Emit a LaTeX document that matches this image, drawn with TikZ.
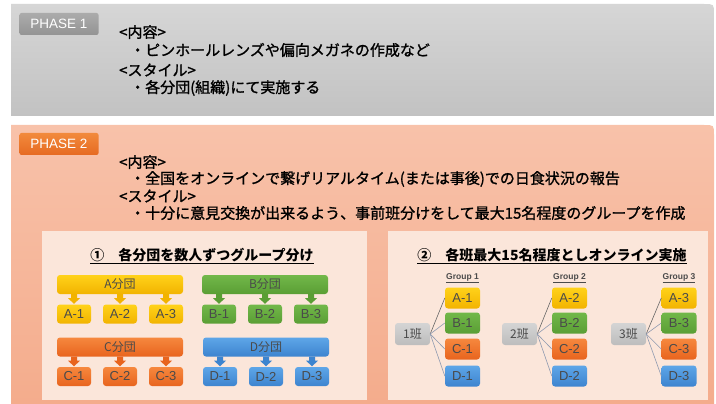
\documentclass[tikz,border=0pt]{standalone}
\usepackage{fontspec}
\setmainfont{Noto Sans CJK JP}
\newfontfamily\jpm[FakeBold=1.2]{Noto Sans CJK JP}
\newfontfamily\latinsans{Liberation Sans}
\usetikzlibrary{calc}
\definecolor{grayA}{HTML}{D6D6D6}
\definecolor{grayB}{HTML}{C2C2C2}
\definecolor{salA}{HTML}{F8C2AA}
\definecolor{salB}{HTML}{F4AC8C}
\definecolor{cream}{HTML}{FBE6DA}
\definecolor{labgrayT}{HTML}{ABABAB}
\definecolor{labgrayB}{HTML}{949494}
\definecolor{laborangeT}{HTML}{F28A3C}
\definecolor{laborangeB}{HTML}{E66A22}
\definecolor{yelT}{HTML}{FFD21A}
\definecolor{yelB}{HTML}{F2B300}
\definecolor{grnT}{HTML}{72B84A}
\definecolor{grnB}{HTML}{5A9E34}
\definecolor{orgT}{HTML}{F6883E}
\definecolor{orgB}{HTML}{E8641E}
\definecolor{bluT}{HTML}{5EA6E8}
\definecolor{bluB}{HTML}{3D84CF}
\definecolor{hanT}{HTML}{D4D4D4}
\definecolor{hanB}{HTML}{BDBDBD}
\definecolor{boxtxt}{HTML}{4A4A4A}
\definecolor{linkc}{HTML}{8E9AB0}
\tikzset{
  phaselab/.style={rounded corners=2pt, text=white, font=\latinsans\fontsize{13.5}{13.5}\selectfont, minimum width=79, minimum height=22, inner sep=0pt},
  bodytxt/.style={anchor=west, inner sep=0pt, font=\jpm\fontsize{15}{15}\selectfont},
  bar/.style={rounded corners=3pt, minimum width=126, minimum height=19, inner sep=0pt, text=boxtxt, font=\fontsize{12}{12}\selectfont},
  sbox/.style={rounded corners=3pt, minimum width=34, minimum height=19, inner sep=0pt, text=boxtxt, font=\latinsans\fontsize{13}{13}\selectfont},
  gbox/.style={rounded corners=3pt, minimum width=35, minimum height=21, inner sep=0pt, text=boxtxt, font=\latinsans\fontsize{13}{13}\selectfont},
  hbox/.style={rounded corners=3pt, minimum width=35, minimum height=22, inner sep=0pt, top color=hanT, bottom color=hanB, text=boxtxt, font=\fontsize{12}{12}\selectfont},
  yel/.style={top color=yelT, bottom color=yelB},
  grn/.style={top color=grnT, bottom color=grnB},
  org/.style={top color=orgT, bottom color=orgB},
  blu/.style={top color=bluT, bottom color=bluB},
  title/.style={inner sep=0pt, font=\fontsize{14}{14}\selectfont\bfseries},
  grp/.style={inner sep=0pt, font=\latinsans\fontsize{8.5}{8.5}\selectfont\bfseries, text=boxtxt},
  link/.style={draw=linkc, line width=0.6pt}
}
\begin{document}
\begin{tikzpicture}[x=1pt,y=-1pt]
\useasboundingbox (0,0) rectangle (716,404);
\fill[white] (0,0) rectangle (716,404);
% panels
\shade[top color=grayA, bottom color=grayB] (11,116) -- (11,4) -- (704,4) .. controls (714,4) .. (714,14) -- (714,116) -- cycle;
\shade[top color=salA, bottom color=salB] (11,404) -- (11,125) -- (704,125) .. controls (714,125) .. (714,135) -- (714,404) -- cycle;
% phase 1
\node[phaselab, top color=labgrayT, bottom color=labgrayB] (p1) at (59,24) {PHASE 1};
\node[bodytxt] (t11) at (119,32) {<内容>};
\node[bodytxt] (t12) at (130,50) {・ピンホールレンズや偏向メガネの作成など};
\node[bodytxt] (t13) at (119,70) {<スタイル>};
\node[bodytxt] (t14) at (130,88) {・各分団(組織)にて実施する};
% phase 2
\node[phaselab, top color=laborangeT, bottom color=laborangeB] (p2) at (59,144) {PHASE 2};
\node[bodytxt] (t21) at (119,162) {<内容>};
\node[bodytxt] (t22) at (130,179) {・全国をオンラインで繋げリアルタイム(または事後)での日食状況の報告};
\node[bodytxt] (t23) at (119,196) {<スタイル>};
\node[bodytxt] (t24) at (130,213) {・十分に意見交換が出来るよう、事前班分けをして最大15名程度のグループを作成};
% inner boxes
\fill[cream] (42,231) rectangle (367,400);
\fill[cream] (388,231) rectangle (708,400);
\node[title] (L) at (202,256) {\underline{①\hspace{1em}各分団を数人ずつグループ分け}};
\node[title] (R) at (552,256) {\underline{②\hspace{1em}各班最大15名程度としオンライン実施}};
% left bars
\foreach \n/\s/\bx/\by/\bc in {A/yel/120/284.5/yelB, B/grn/265/284.5/grnB, C/org/120/347/orgB, D/blu/266/347/bluB}{
  \node[bar, \s] (bar\n) at (\bx,\by) {\n 分団};
  \foreach \i/\dx in {1/-46,2/0,3/46}{
    \node[sbox, \s] (\n\i) at ($(bar\n)+(\dx,29.5)$) {\n-\i};
    \fill[\bc] ($(bar\n.south)+(\dx-3,0)$) -- ($(bar\n.south)+(\dx+3,0)$) -- ($(bar\n.south)+(\dx+3,4)$) -- ($(bar\n.south)+(\dx+6,4)$) -- ($(\n\i.north)+(0,-0.5)$) -- ($(bar\n.south)+(\dx-6,4)$) -- ($(bar\n.south)+(\dx-3,4)$) -- cycle;
  }
}
% right groups
\foreach \g/\hx/\cx in {1/412.5/462.5, 2/519.5/569.5, 3/628.5/679}{
  \node[grp] (G\g) at (\cx,278) {\underline{Group \g}};
  \node[hbox] (H\g) at (\hx,334) {\g 班};
  \node[gbox, yel] (RA\g) at (\cx,298) {A-\g};
  \node[gbox, grn] (RB\g) at (\cx,323) {B-\g};
  \node[gbox, org] (RC\g) at (\cx,349) {C-\g};
  \node[gbox, blu] (RD\g) at (\cx,376) {D-\g};
  \draw[link, draw=black!60] (H\g.east) -- (RA\g.west);
  \foreach \r in {B,C,D}{ \draw[link] (H\g.east) -- (R\r\g.west); }
}
\end{tikzpicture}
\end{document}
